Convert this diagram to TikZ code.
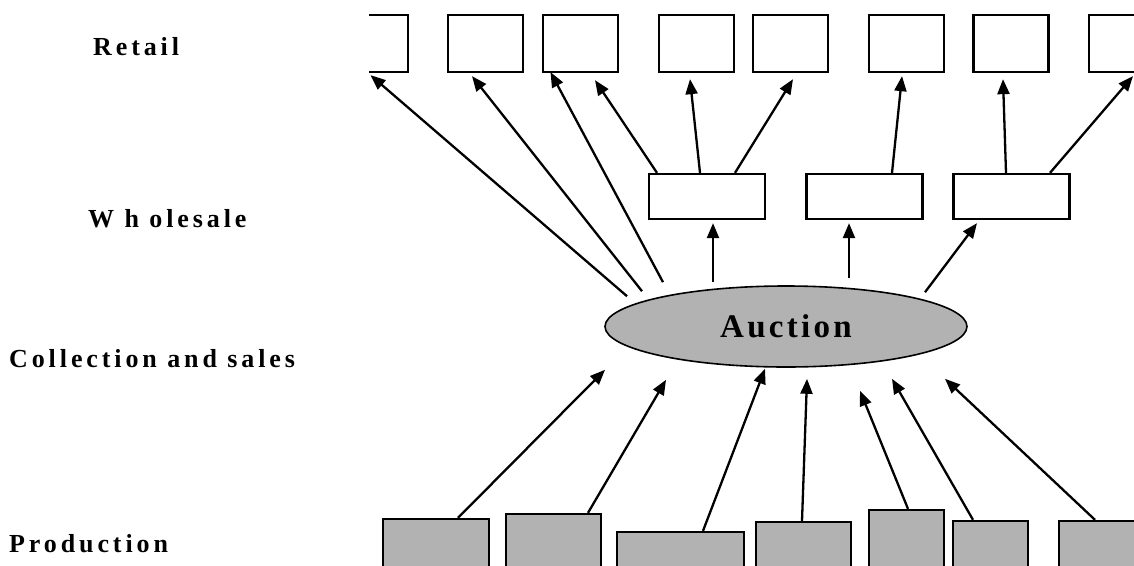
\documentclass[tikz,border=0pt]{standalone}
\usepackage{fontspec}
\setmainfont{Liberation Serif}
\newfontfamily\spacedfont[LetterSpace=15]{Liberation Serif}
\newfontfamily\auctionfont[LetterSpace=10]{Liberation Serif}
\usepackage{tikz}
\usetikzlibrary{arrows.meta,shapes.geometric}
\definecolor{boxgray}{gray}{0.7}
\tikzset{
	rbox/.style={draw, line width=2.3pt, minimum width=75pt, minimum height=57pt, inner sep=0pt},
	wbox/.style={draw, line width=2.3pt, minimum width=116pt, minimum height=45pt, inner sep=0pt},
	pbox/.style={draw, line width=2.3pt, fill=boxgray, inner sep=0pt},
	level/.style={anchor=base west, inner sep=0pt, font=\spacedfont\bfseries\fontsize{26}{30}\selectfont},
	arr/.style={line width=2.3pt, -{Triangle[length=15pt, width=12pt]}}
}

\begin{document}
\begin{tikzpicture}[x=1pt, y=-1pt]
				\useasboundingbox (0,0) rectangle (1134,565);
				\node[level] (lret) at (93,55) {Retail};
				\node[level] (lwhole) at (88,227) {W h olesale};
				\node[level] (lcoll) at (9,367) {Collection and sales};
				\node[level] (lprod) at (9,552) {Production};
				\begin{scope}
					\clip (369,0) rectangle (1134,565);
					\node[rbox] (r1) at (370.5,43.5) {};
				\end{scope}
				\node[rbox] (r2) at (485.5,43.5) {};
				\node[rbox] (r3) at (580.5,43.5) {};
				\node[rbox] (r4) at (696.5,43.5) {};
				\node[rbox] (r5) at (790.5,43.5) {};
				\node[rbox] (r6) at (906.5,43.5) {};
				\node[rbox] (r7) at (1011,43.5) {};
				\node[rbox] (r8) at (1126.5,43.5) {};
				\node[wbox] (w1) at (707,196.5) {};
				\node[wbox] (w2) at (864.5,196.5) {};
				\node[wbox] (w3) at (1011.5,196.5) {};
				\node[ellipse, draw, line width=1.6pt, fill=boxgray, minimum width=362pt, minimum height=81pt,
					font=\auctionfont\bfseries\fontsize{33}{37}\selectfont] (auction) at (786,326.5) {Auction};
				\node[pbox, minimum width=106pt, minimum height=56pt] (p1) at (436,547) {};
				\node[pbox, minimum width=95pt, minimum height=61pt] (p2) at (553.5,544.5) {};
				\node[pbox, minimum width=127pt, minimum height=43pt] (p3) at (680.5,553.5) {};
				\node[pbox, minimum width=95pt, minimum height=53pt] (p4) at (803.5,548.5) {};
				\node[pbox, minimum width=75pt, minimum height=65pt] (p5) at (906.5,542.5) {};
				\node[pbox, minimum width=75pt, minimum height=54pt] (p6) at (990.5,548) {};
				\node[pbox, minimum width=101pt, minimum height=54pt] (p7) at (1109.5,548) {};
				\path[arr]
				([shift={(-159,11)}]auction.north) edge ([shift={(0,2)}]r1.south)
				([shift={(-144,6)}]auction.north) edge ([shift={(-13.5,3)}]r2.south)
				([shift={(-123,-3)}]auction.north) edge ([shift={(-30,-1)}]r3.south)
				([shift={(-73,-3)}]auction.north) edge ([shift={(6,3)}]w1.south)
				([shift={(63,-7)}]auction.north) edge ([shift={(-15.5,3)}]w2.south)
				([shift={(139,7)}]auction.north) edge ([shift={(-34.5,3)}]w3.south)
				([shift={(-50,0)}]w1.north) edge ([shift={(14.5,7)}]r3.south)
				([shift={(-7,0)}]w1.north) edge ([shift={(-6.5,6)}]r4.south)
				([shift={(28,0)}]w1.north) edge ([shift={(2.5,6)}]r5.south)
				([shift={(27.5,0)}]w2.north) edge ([shift={(-4.5,3)}]r6.south)
				([shift={(-5.5,0)}]w3.north) edge ([shift={(-8,6)}]r7.south)
				([shift={(38.5,0)}]w3.north) edge ([shift={(6.5,3)}]r8.south);
				\path[arr]
				([shift={(22,0)}]p1.north) edge ([shift={(-181,2)}]auction.south)
				([shift={(34.5,0)}]p2.north) edge ([shift={(-120,12)}]auction.south)
				([shift={(22.5,0)}]p3.north) edge ([shift={(-21,1)}]auction.south)
				([shift={(-1.5,0)}]p4.north) edge ([shift={(21,11)}]auction.south)
				([shift={(1.5,0)}]p5.north) edge ([shift={(74,23)}]auction.south)
				([shift={(-17.5,0)}]p6.north) edge ([shift={(106,11)}]auction.south)
				([shift={(-14.5,0)}]p7.north) edge ([shift={(159,11)}]auction.south);
			\end{tikzpicture}
\end{document}
